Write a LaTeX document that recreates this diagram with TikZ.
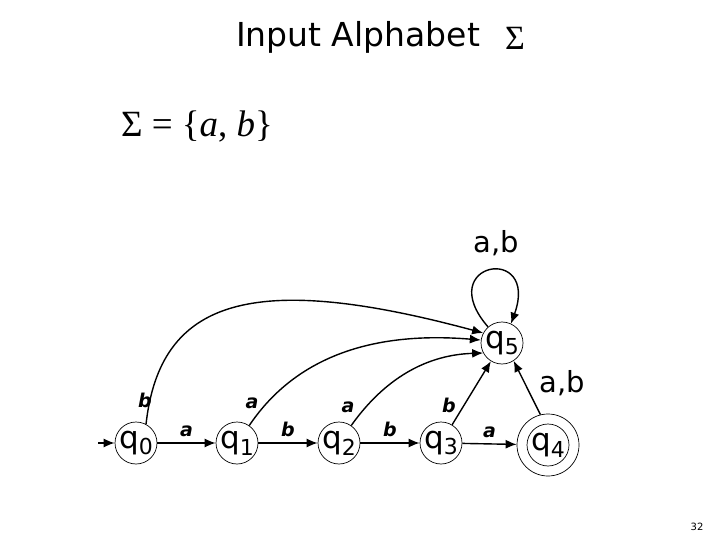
\documentclass[tikz,border=0pt]{standalone}
\usepackage{fontspec}
\setmainfont{DejaVu Sans}
\newfontfamily\serifface{Liberation Serif}
\usetikzlibrary{arrows.meta}
\newcommand{\stlab}[1]{q\raisebox{-0.22em}{\fontsize{22}{22}\selectfont #1}}
\begin{document}
\begin{tikzpicture}[x=1pt,y=-1pt,
  state/.style={circle,draw,line width=0.7pt,minimum size=42pt,inner sep=0pt,font=\fontsize{31}{31}\selectfont},
  accst/.style={circle,draw,line width=0.7pt,minimum size=62pt,inner sep=0pt},
  edge/.style={line width=1.4pt,-{Latex[length=11pt,width=9pt]}},
  elab/.style={font=\fontsize{19}{19}\selectfont\bfseries\itshape},
  biglab/.style={font=\fontsize{29}{29}\selectfont}]
\useasboundingbox (0,0) rectangle (720,540);
% title
\node (title) at (358,37) {\fontsize{33}{33}\selectfont Input Alphabet};
\node (sig) at (515,38) {\serifface\fontsize{34}{34}\selectfont Σ};
\node (set) at (197,127) {\serifface\fontsize{37}{37}\selectfont Σ = \{\textit{a}, \textit{b}\}};
% states
\node[state] (q0) at (136,443) {\stlab{0}};
\node[state] (q1) at (237,443) {\stlab{1}};
\node[state] (q2) at (339,443) {\stlab{2}};
\node[state] (q3) at (441,443) {\stlab{3}};
\node[state] (q4in) at (548,445) {\stlab{4}};
\node[accst] (q4) at (548,445) {};
\node[state] (q5) at (502,343) {\stlab{5}};
\coordinate (init) at (98,443);
% transitions
\draw[edge] (init) -- (q0);
\draw[edge] (q0) -- node[elab,above=2pt] {a} (q1);
\draw[edge] (q1) -- node[elab,above=2pt] {b} (q2);
\draw[edge] (q2) -- node[elab,above=2pt] {b} (q3);
\draw[edge] (q3) -- node[elab,above=2pt] {a} (q4);
\draw[edge] (q0.62) .. controls (160,300) and (250,270) .. (q5.152);
\draw[edge] (q1.55) .. controls (290,365) and (360,330) .. (q5.172);
\draw[edge] (q2.55) .. controls (380,385) and (420,355) .. (q5.208);
\draw[edge] (q3) -- (q5);
\draw[edge] (q4.104) -- (q5.-57);
\draw[edge] (q5.131) .. controls (432,262) and (540,243) .. (q5.65);
% labels
\node[elab] (lb0) at (145,400) {b};
\node[elab] (lb1) at (252,403) {a};
\node[elab] (lb2) at (348,407) {a};
\node[elab] (lb3) at (449,405) {b};
\node[biglab] (lloop) at (496,243) {a,b};
\node[biglab] (l45) at (562,383) {a,b};
\node (page) at (697,527) {\fontsize{10}{10}\selectfont 32};
\end{tikzpicture}
\end{document}
